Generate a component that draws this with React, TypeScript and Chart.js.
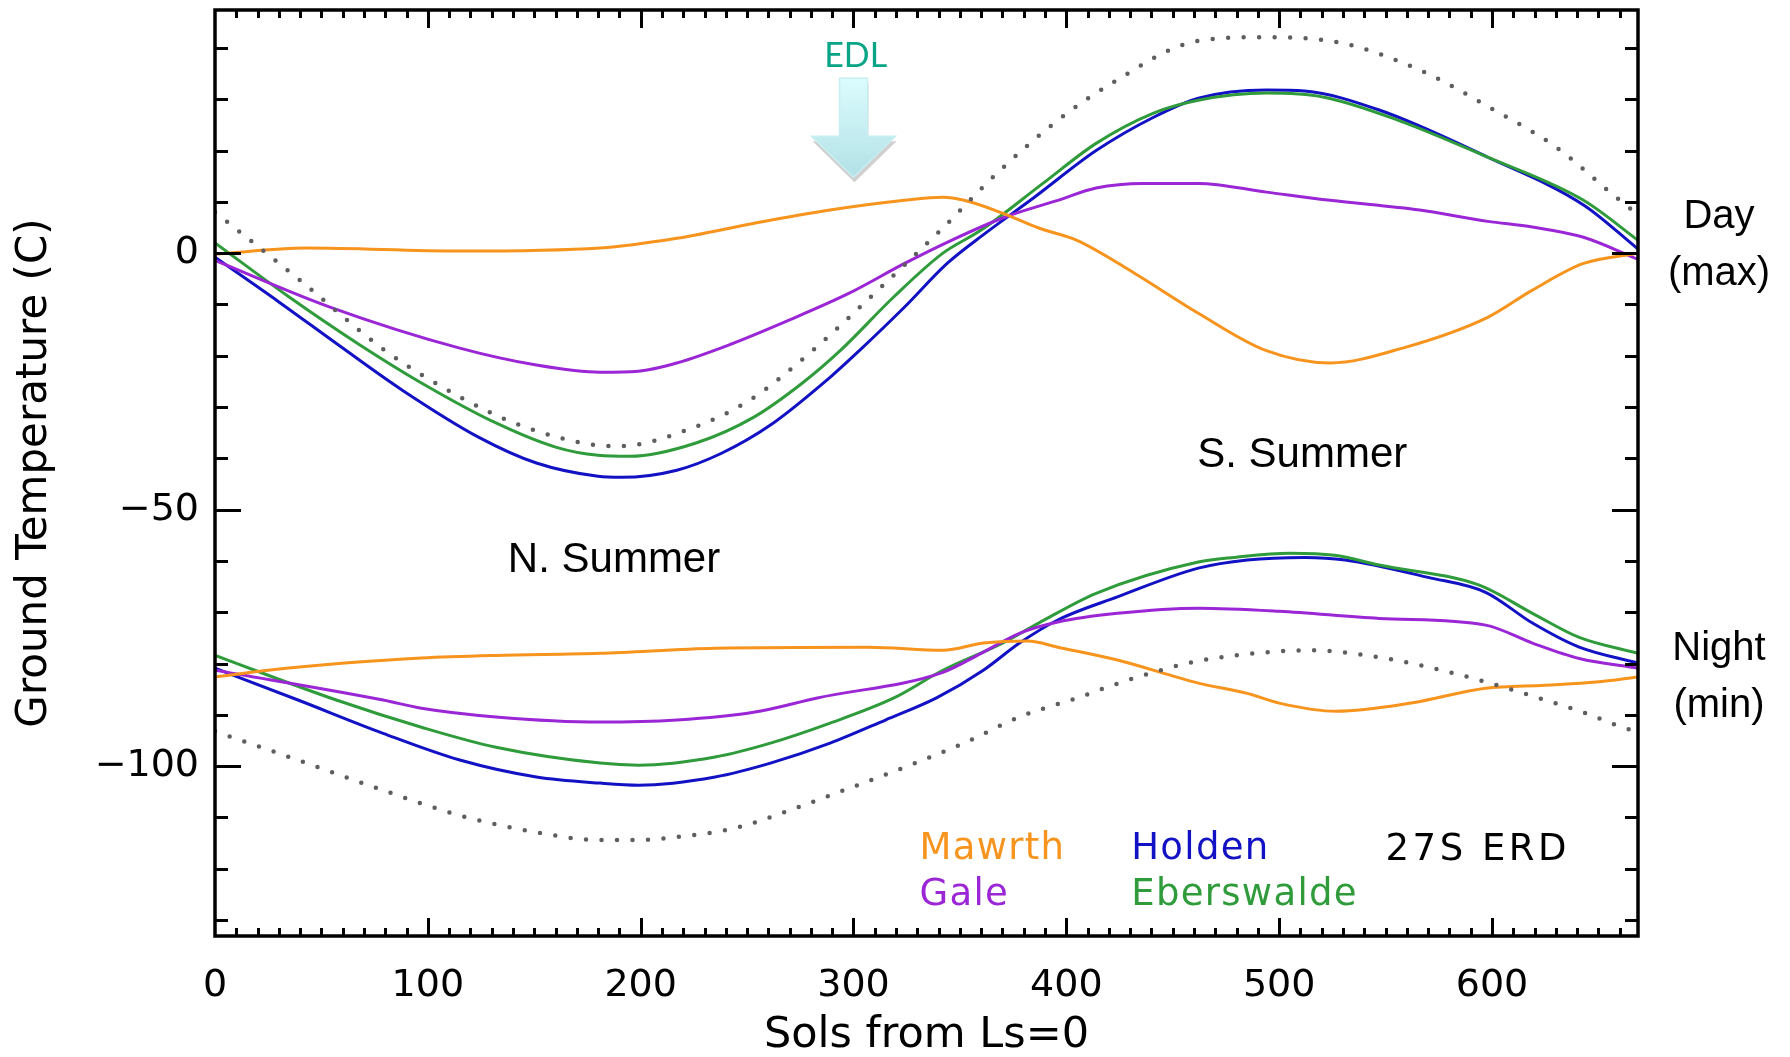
import React, { useEffect, useRef } from 'react';
import { Chart, registerables } from 'chart.js';

Chart.register(...registerables);

// ---- axes ----
const X_MIN = 0;
const X_MAX = 668.6;
const Y_MIN = -133.1;
const Y_MAX = 47.4;
const X_TICK_LABELS = [0, 100, 200, 300, 400, 500, 600];
const Y_TICK_LABELS = [-100, -50, 0];

// ---- Day (max) ----
const mawrthDaySols = [0, 43, 115, 181, 217, 253, 289, 324, 342, 352, 370, 387, 405, 432, 462, 494, 524, 558, 598, 619, 643, 668.6];
const mawrthDayTemps = [-0.2, 1.0, 0.4, 1.0, 2.9, 5.8, 8.4, 10.3, 10.9, 10.3, 7.8, 4.9, 2.5, -3.9, -11.7, -19.0, -21.4, -18.5, -12.5, -7.2, -2.0, 0.0];

const galeDaySols = [0, 54, 115, 151, 181, 199, 217, 242, 270, 298, 324, 346, 371, 396, 414, 436, 462, 494, 524, 566, 598, 619, 643, 668.6];
const galeDayTemps = [-1.4, -10.5, -18.5, -21.8, -23.2, -23.0, -21.4, -17.8, -13.0, -7.8, -2.0, 2.5, 7.0, 10.3, 12.7, 13.6, 13.6, 11.9, 10.3, 8.4, 6.2, 5.1, 3.1, -1.2];

const holdenDaySols = [0, 30, 59, 88, 124, 151, 180, 191, 217, 238, 261, 289, 303, 324, 344, 362, 385, 414, 441, 462, 494, 512, 547, 598, 643, 668.6];
const holdenDayTemps = [-0.8, -9.5, -18.2, -26.7, -35.9, -40.9, -43.5, -43.7, -42.3, -39.0, -33.5, -24.2, -18.9, -10.5, -2.0, 3.9, 10.9, 20.0, 26.5, 30.2, 31.8, 31.6, 27.9, 18.7, 9.4, 0.8];

const eberswaldeDaySols = [0, 34, 67, 97, 132, 160, 180, 195, 226, 253, 276, 294, 319, 342, 360, 389, 414, 441, 462, 494, 521, 556, 598, 643, 668.6];
const eberswaldeDayTemps = [2.0, -8.3, -17.6, -25.3, -33.1, -37.8, -39.4, -39.6, -37.0, -32.0, -25.3, -18.9, -8.5, 0.0, 4.5, 13.6, 21.4, 27.3, 29.8, 31.2, 30.4, 25.9, 18.7, 10.3, 2.5];

const erdDaySols = [0, 40, 80, 115, 143, 179, 190, 224, 251, 281, 314, 341, 368, 396, 422, 461, 494, 530, 566, 601, 630, 656, 668.6];
const erdDayTemps = [8.0, -5.3, -19.0, -28.0, -33.5, -37.4, -37.6, -34.1, -28.7, -18.9, -6.2, 4.5, 15.8, 25.9, 33.3, 41.3, 42.1, 40.9, 35.7, 27.9, 20.7, 11.7, 7.5];

// ---- Night (min) ----
const mawrthNightSols = [0, 25, 61, 97, 132, 181, 235, 307, 342, 361, 382, 396, 424, 462, 485, 500, 527, 562, 597, 625, 649, 668.6];
const mawrthNightTemps = [-82.6, -81.3, -79.9, -78.9, -78.4, -78.0, -77.0, -76.8, -77.4, -76.0, -75.6, -76.8, -79.3, -83.8, -85.8, -87.7, -89.3, -87.7, -84.8, -84.2, -83.6, -82.6];

const galeNightSols = [0, 79, 97, 132, 181, 217, 253, 283, 342, 360, 378, 396, 424, 462, 500, 547, 597, 619, 641, 668.6];
const galeNightTemps = [-81.3, -87.1, -88.7, -90.4, -91.4, -91.0, -89.5, -86.7, -81.7, -78.0, -74.1, -71.9, -70.2, -69.2, -69.8, -71.2, -72.5, -76.0, -79.0, -80.9];

const holdenNightSols = [0, 39, 79, 115, 151, 181, 199, 235, 261, 289, 315, 339, 361, 378, 396, 424, 462, 485, 512, 531, 570, 597, 619, 641, 668.6];
const holdenNightTemps = [-80.9, -87.1, -93.6, -98.8, -102.1, -103.3, -103.7, -102.1, -99.4, -95.5, -91.0, -86.7, -81.3, -76.0, -71.5, -67.0, -61.4, -59.8, -59.3, -59.8, -63.2, -66.1, -72.1, -76.8, -79.9];

const eberswaldeNightSols = [0, 57, 97, 132, 181, 199, 235, 261, 289, 319, 342, 370, 387, 414, 462, 479, 505, 526, 547, 594, 619, 641, 668.6];
const eberswaldeNightTemps = [-78.4, -87.1, -92.4, -96.3, -99.4, -99.8, -98.2, -95.5, -91.6, -86.7, -81.3, -76.0, -72.1, -66.3, -60.2, -59.3, -58.5, -58.9, -60.8, -64.7, -70.2, -74.9, -78.0];

const erdNightSols = [0, 43, 79, 115, 151, 181, 199, 217, 244, 270, 298, 324, 352, 378, 405, 432, 462, 494, 515, 538, 566, 594, 625, 643, 661, 668.6];
const erdNightTemps = [-93.2, -99.4, -104.7, -109.6, -112.9, -114.4, -114.4, -113.8, -112.1, -108.6, -104.3, -100.2, -95.5, -90.4, -86.7, -82.8, -79.5, -77.8, -77.4, -78.2, -80.3, -83.2, -87.1, -89.5, -92.4, -93.3];

// ---- labels / annotations ----
const LEGEND_LABELS = ['Mawrth', 'Holden', '27S ERD', 'Gale', 'Eberswalde'];
const EDL_SOL = 300;

const ORANGE = '#F7941D';
const PURPLE = '#9B26D6';
const BLUE = '#1212C4';
const GREEN = '#2F9B3B';
const GRAY = '#5E5E5E';
const LEGEND_COLORS = [ORANGE, BLUE, '#000000', PURPLE, GREEN];

const TICK_FONT = '"DejaVu Sans", sans-serif';
const ARIAL = '"Liberation Sans", Arial, sans-serif';

function series(label: string, sols: number[], temps: number[], color: string, dotted = false) {
  return {
    label,
    data: sols.map((s, i) => ({ x: s, y: temps[i] })),
    borderColor: color,
    backgroundColor: color,
    borderWidth: dotted ? 4.5 : 3,
    borderDash: dotted ? [0, 15.5] : [],
    borderCapStyle: dotted ? 'round' : 'butt',
    pointRadius: 0,
    cubicInterpolationMode: 'monotone',
    fill: false,
  };
}

const decorPlugin = {
  id: 'decor',
  afterDatasetsDraw(chart: any) {
    const { ctx, scales } = chart;
    const xs = scales.x;
    const ys = scales.y;
    const area = chart.chartArea;
    ctx.save();

    // EDL arrow
    const cx = xs.getPixelForValue(EDL_SOL);
    const top = ys.getPixelForValue(34.1);
    const tip = ys.getPixelForValue(14.8);
    const headY = tip - 41;
    const path = (dx: number, dy: number) => {
      ctx.beginPath();
      ctx.moveTo(cx - 14 + dx, top + dy);
      ctx.lineTo(cx + 14 + dx, top + dy);
      ctx.lineTo(cx + 14 + dx, headY + dy);
      ctx.lineTo(cx + 42 + dx, headY + dy);
      ctx.lineTo(cx + dx, tip + dy);
      ctx.lineTo(cx - 42 + dx, headY + dy);
      ctx.lineTo(cx - 14 + dx, headY + dy);
      ctx.closePath();
    };
    path(1, 5);
    ctx.fillStyle = 'rgba(200,200,200,0.85)';
    ctx.fill();
    const g = ctx.createLinearGradient(0, top, 0, tip);
    g.addColorStop(0, '#dcfcfe');
    g.addColorStop(1, '#b2e1e6');
    path(0, 0);
    ctx.fillStyle = g;
    ctx.fill();
    ctx.strokeStyle = '#c8eef2';
    ctx.lineWidth = 1.5;
    ctx.stroke();

    ctx.fillStyle = '#0AA586';
    ctx.font = '34px Lato, "Open Sans", sans-serif';
    ctx.textAlign = 'center';
    ctx.textBaseline = 'alphabetic';
    ctx.fillText('EDL', xs.getPixelForValue(301), ys.getPixelForValue(36.3));

    // season labels
    ctx.fillStyle = '#000';
    ctx.font = `42px ${ARIAL}`;
    ctx.textAlign = 'left';
    ctx.fillText('N. Summer', xs.getPixelForValue(137.6), ys.getPixelForValue(-62.2));
    ctx.fillText('S. Summer', xs.getPixelForValue(461.5), ys.getPixelForValue(-41.7));

    // right side labels
    ctx.font = `40px ${ARIAL}`;
    ctx.textAlign = 'center';
    const rx = area.right + 81;
    ctx.fillText('Day', rx, ys.getPixelForValue(4.9));
    ctx.fillText('(max)', rx, ys.getPixelForValue(-6.2));
    ctx.fillText('Night', rx, ys.getPixelForValue(-79.3));
    ctx.fillText('(min)', rx, ys.getPixelForValue(-90.4));

    // text legend
    ctx.font = `37px ${TICK_FONT}`;
    ctx.textAlign = 'left';
    const legendPos = [
      [331, -118.1],
      [430.5, -118.1],
      [550, -118.3],
      [331, -127.1],
      [430.5, -127.1],
    ];
    LEGEND_LABELS.forEach((t, i) => {
      ctx.fillStyle = LEGEND_COLORS[i];
      (ctx as any).letterSpacing = i === 2 ? '3.5px' : '1.3px';
      ctx.fillText(t, xs.getPixelForValue(legendPos[i][0]), ys.getPixelForValue(legendPos[i][1]));
    });
    (ctx as any).letterSpacing = '0px';
    ctx.restore();
  },
  afterDraw(chart: any) {
    const { ctx, scales } = chart;
    const xs = scales.x;
    const ys = scales.y;
    const a = chart.chartArea;
    ctx.save();
    ctx.strokeStyle = '#000';
    ctx.lineWidth = 3;
    ctx.lineCap = 'butt';
    ctx.beginPath();
    for (let v = 10; v < X_MAX; v += 10) {
      const px = Math.round(xs.getPixelForValue(v)) + 0.5;
      const len = v % 100 === 0 ? 18 : 8;
      ctx.moveTo(px, a.bottom);
      ctx.lineTo(px, a.bottom - len);
      ctx.moveTo(px, a.top);
      ctx.lineTo(px, a.top + len);
    }
    for (let v = -130; v < Y_MAX; v += 10) {
      const py = Math.round(ys.getPixelForValue(v)) + 0.5;
      const len = v % 50 === 0 ? 26 : 13;
      ctx.moveTo(a.left, py);
      ctx.lineTo(a.left + len, py);
      ctx.moveTo(a.right, py);
      ctx.lineTo(a.right - len, py);
    }
    ctx.stroke();
    ctx.lineWidth = 3.5;
    ctx.strokeRect(a.left, a.top, a.right - a.left, a.bottom - a.top);
    ctx.restore();
  },
};

function fmt(v: number) {
  return v < 0 ? '\u2212' + Math.abs(v) : String(v);
}

export default function App() {
  const ref = useRef<HTMLCanvasElement>(null);
  useEffect(() => {
    if (!ref.current) return;
    const chart = new Chart(ref.current, {
      type: 'line',
      data: {
        datasets: [
          series('27S ERD (day)', erdDaySols, erdDayTemps, GRAY, true),
          series('27S ERD (night)', erdNightSols, erdNightTemps, GRAY, true),
          series('Mawrth (day)', mawrthDaySols, mawrthDayTemps, ORANGE),
          series('Mawrth (night)', mawrthNightSols, mawrthNightTemps, ORANGE),
          series('Gale (day)', galeDaySols, galeDayTemps, PURPLE),
          series('Gale (night)', galeNightSols, galeNightTemps, PURPLE),
          series('Eberswalde (day)', eberswaldeDaySols, eberswaldeDayTemps, GREEN),
          series('Eberswalde (night)', eberswaldeNightSols, eberswaldeNightTemps, GREEN),
          series('Holden (day)', holdenDaySols, holdenDayTemps, BLUE),
          series('Holden (night)', holdenNightSols, holdenNightTemps, BLUE),
        ] as any,
      },
      options: {
        animation: false,
        responsive: false,
        layout: { padding: { left: 0, right: 152, top: 10, bottom: 0 } },
        plugins: { legend: { display: false }, tooltip: { enabled: false } },
        scales: {
          x: {
            type: 'linear',
            min: X_MIN,
            max: X_MAX,
            grid: { display: false, drawTicks: false },
            border: { display: false },
            afterBuildTicks: (s: any) => {
              s.ticks = X_TICK_LABELS.map((v) => ({ value: v }));
            },
            afterFit: (s: any) => {
              s.height = 121;
              s.paddingLeft = 0;
              s.paddingRight = 0;
            },
            ticks: {
              autoSkip: false,
              maxRotation: 0,
              padding: 27,
              color: '#000',
              font: { family: TICK_FONT, size: 38, lineHeight: 1.2 },
              callback: (v: any) => fmt(Number(v)),
            },
            title: {
              display: true,
              text: 'Sols from Ls=0',
              color: '#000',
              font: { family: TICK_FONT, size: 43, lineHeight: 1 },
              padding: { top: 0, bottom: 0 },
            },
          },
          y: {
            type: 'linear',
            min: Y_MIN,
            max: Y_MAX,
            grid: { display: false, drawTicks: false },
            border: { display: false },
            afterBuildTicks: (s: any) => {
              s.ticks = Y_TICK_LABELS.map((v) => ({ value: v }));
            },
            afterFit: (s: any) => {
              s.width = 215;
              s.paddingTop = 0;
              s.paddingBottom = 0;
            },
            ticks: {
              padding: 16,
              color: '#000',
              font: { family: TICK_FONT, size: 38, lineHeight: 1.2 },
              callback: (v: any) => fmt(Number(v)),
            },
            title: {
              display: true,
              text: 'Ground Temperature (C)',
              color: '#000',
              font: { family: TICK_FONT, size: 42, lineHeight: 1 },
              padding: { top: 14, bottom: 0 },
            },
          },
        },
      } as any,
      plugins: [decorPlugin],
    });
    return () => chart.destroy();
  }, []);
  return (
    <div style={{ position: 'absolute', left: 0, top: 0, width: 1790, height: 1057, background: '#fff' }}>
      <canvas ref={ref} width={1790} height={1057} style={{ display: 'block', width: 1790, height: 1057 }} />
    </div>
  );
}
